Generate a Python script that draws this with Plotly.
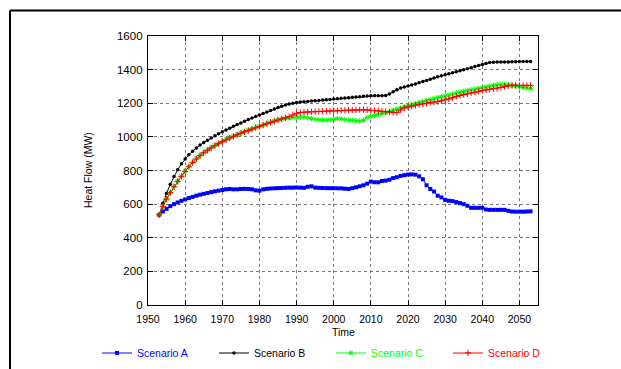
import plotly.graph_objects as go

years = list(range(1953, 2054))

scenario_a = [
    536, 556, 572, 588, 600, 610, 620, 628, 636, 643,   # 1953-1962
    650, 656, 661, 666, 671, 676, 680, 684, 688, 690,   # 1963-1972
    688, 688, 690, 691, 690, 688, 682, 680, 688, 691,   # 1973-1982
    693, 694, 695, 696, 697, 698, 698, 699, 698, 697,   # 1983-1992
    703, 706, 698, 697, 696, 695, 695, 695, 694, 694,   # 1993-2002
    692, 690, 695, 700, 706, 712, 722, 734, 730, 730,   # 2003-2012
    738, 740, 745, 755, 760, 768, 772, 776, 777, 775,   # 2013-2022
    765, 748, 712, 690, 675, 650, 640, 625, 620, 618,   # 2023-2032
    612, 606, 600, 590, 578, 578, 578, 578, 568, 566,   # 2033-2042
    566, 566, 566, 566, 560, 556, 555, 555, 555, 556,   # 2043-2052
    557,                                                # 2053
]

scenario_b = [
    536, 605, 665, 718, 765, 805, 840, 868, 893, 915,
    934, 951, 966, 980, 993, 1006, 1018, 1030, 1041, 1052,
    1063, 1073, 1083, 1093, 1103, 1112, 1121, 1130, 1139, 1148,
    1157, 1166, 1175, 1182, 1189, 1195, 1200, 1204, 1207, 1209,
    1211, 1213, 1215, 1217, 1219, 1221, 1223, 1225, 1227, 1229,
    1231, 1233, 1235, 1237, 1239, 1241, 1243, 1244, 1245, 1245,
    1245, 1246, 1255, 1268, 1280, 1290, 1296, 1302, 1308, 1315,
    1322, 1329, 1336, 1343, 1350, 1357, 1363, 1369, 1375, 1381,
    1387, 1393, 1399, 1405, 1411, 1418, 1425, 1431, 1437, 1442,
    1444, 1445, 1446, 1446, 1446, 1447, 1447, 1448, 1448, 1449,
    1449,
]

scenario_c = [
    536, 587, 632, 670, 705, 737, 767, 797, 824, 849,
    870, 890, 907, 922, 936, 950, 962, 973, 984, 995,
    1005, 1014, 1023, 1032, 1040, 1048, 1056, 1064, 1072, 1080,
    1087, 1094, 1101, 1106, 1110, 1112, 1115, 1117, 1118, 1117,
    1113, 1108, 1104, 1102, 1100, 1100, 1102, 1105, 1108, 1107,
    1103, 1100, 1098, 1096, 1094, 1098, 1115, 1122, 1127, 1132,
    1138, 1143, 1150, 1158, 1165, 1172, 1178, 1185, 1192, 1198,
    1205, 1210, 1216, 1222, 1228, 1234, 1239, 1244, 1249, 1255,
    1261, 1266, 1271, 1276, 1280, 1284, 1288, 1292, 1297, 1302,
    1307, 1311, 1313, 1312, 1309, 1305, 1302, 1298, 1294, 1290,
    1288,
]

scenario_d = [
    536, 585, 630, 668, 703, 735, 765, 795, 822, 847,
    868, 888, 905, 920, 934, 948, 960, 971, 982, 993,
    1003, 1012, 1021, 1030, 1038, 1046, 1054, 1062, 1070, 1078,
    1086, 1093, 1100, 1107, 1114, 1120, 1130, 1140, 1145, 1147,
    1148, 1149, 1150, 1151, 1152, 1153, 1154, 1155, 1156, 1157,
    1158, 1159, 1160, 1161, 1162, 1162, 1160, 1158, 1156, 1154,
    1152, 1150, 1148, 1146, 1144, 1160, 1172, 1178, 1183, 1188,
    1192, 1196, 1200, 1204, 1207, 1210, 1214, 1220, 1226, 1233,
    1240, 1246, 1251, 1256, 1261, 1266, 1271, 1275, 1279, 1283,
    1287, 1290, 1294, 1299, 1304, 1307, 1307, 1306, 1306, 1306,
    1306,
]

x_ticks = list(range(1950, 2051, 10))
y_ticks = list(range(0, 1601, 200))

FONT = "Liberation Sans, Arial, sans-serif"
W, H = 621, 369
L, R, T, B = 148, 83, 36, 64
PW, PH = W - L - R, H - T - B


def px_to_paper_x(px):
    return (px - L) / PW


def py_to_paper_y(py):
    return (H - B - py) / PH


series = [
    ("Scenario A", scenario_a, "#0000ff", dict(symbol="square", size=4)),
    ("Scenario B", scenario_b, "#000000", dict(symbol="circle", size=3.5)),
    ("Scenario C", scenario_c, "#00ff00", dict(symbol="asterisk-open", size=4.5, line=dict(width=1, color="#00ff00"))),
    ("Scenario D", scenario_d, "#ff0000", dict(symbol="cross-thin-open", size=4.5, line=dict(width=1, color="#ff0000"))),
]

fig = go.Figure()
for name, vals, color, mk in series:
    marker = dict(color=color, **mk)
    fig.add_trace(go.Scatter(
        x=years, y=vals, mode="lines+markers",
        name=f"<span style='color:{color}'>{name}</span>",
        line=dict(color=color, width=1),
        marker=marker,
    ))

axis_common = dict(
    showline=True, linecolor="black", linewidth=1.3, mirror="ticks",
    ticks="inside", ticklen=5, tickcolor="black", tickwidth=1,
    showgrid=True, gridcolor="#777777", griddash="dot", gridwidth=1,
    zeroline=False, automargin=False,
)

fig.update_layout(
    width=W, height=H,
    margin=dict(l=L, r=R, t=T, b=B, pad=0, autoexpand=False),
    paper_bgcolor="white", plot_bgcolor="white",
    font=dict(family=FONT, size=10.5, color="black"),
    xaxis=dict(range=[1950, 2055], tickvals=x_ticks, ticktext=[str(v) for v in x_ticks],
               ticklabelstandoff=4, tickfont=dict(family=FONT, size=10.5, color="black"), **axis_common),
    yaxis=dict(range=[0, 1600], tickvals=y_ticks, ticktext=[str(v) for v in y_ticks],
               ticklabelstandoff=2, tickfont=dict(family=FONT, size=11.5, color="black"), **axis_common),
    showlegend=True,
    legend=dict(
        orientation="h", x=px_to_paper_x(97), y=py_to_paper_y(353),
        xanchor="left", yanchor="middle",
        entrywidth=72, entrywidthmode="pixels", itemwidth=30,
        font=dict(family=FONT, size=10.5), bgcolor="rgba(0,0,0,0)",
    ),
    annotations=[
        dict(text="Time", x=px_to_paper_x(343), y=py_to_paper_y(332), xref="paper", yref="paper",
             showarrow=False, xanchor="center", yanchor="middle", font=dict(family=FONT, size=10.5)),
        dict(text="Heat Flow (MW)", x=px_to_paper_x(88), y=py_to_paper_y(170), xref="paper", yref="paper",
             showarrow=False, xanchor="center", yanchor="middle", textangle=-90, font=dict(family=FONT, size=10.5)),
    ],
    shapes=[
        dict(type="line", xref="paper", yref="paper", x0=px_to_paper_x(10), x1=px_to_paper_x(700),
             y0=py_to_paper_y(10.5), y1=py_to_paper_y(10.5), line=dict(color="black", width=2)),
        dict(type="line", xref="paper", yref="paper", x0=px_to_paper_x(10), x1=px_to_paper_x(10),
             y0=py_to_paper_y(10.5), y1=py_to_paper_y(450), line=dict(color="black", width=2)),
    ],
)

fig.write_html("out.html")
